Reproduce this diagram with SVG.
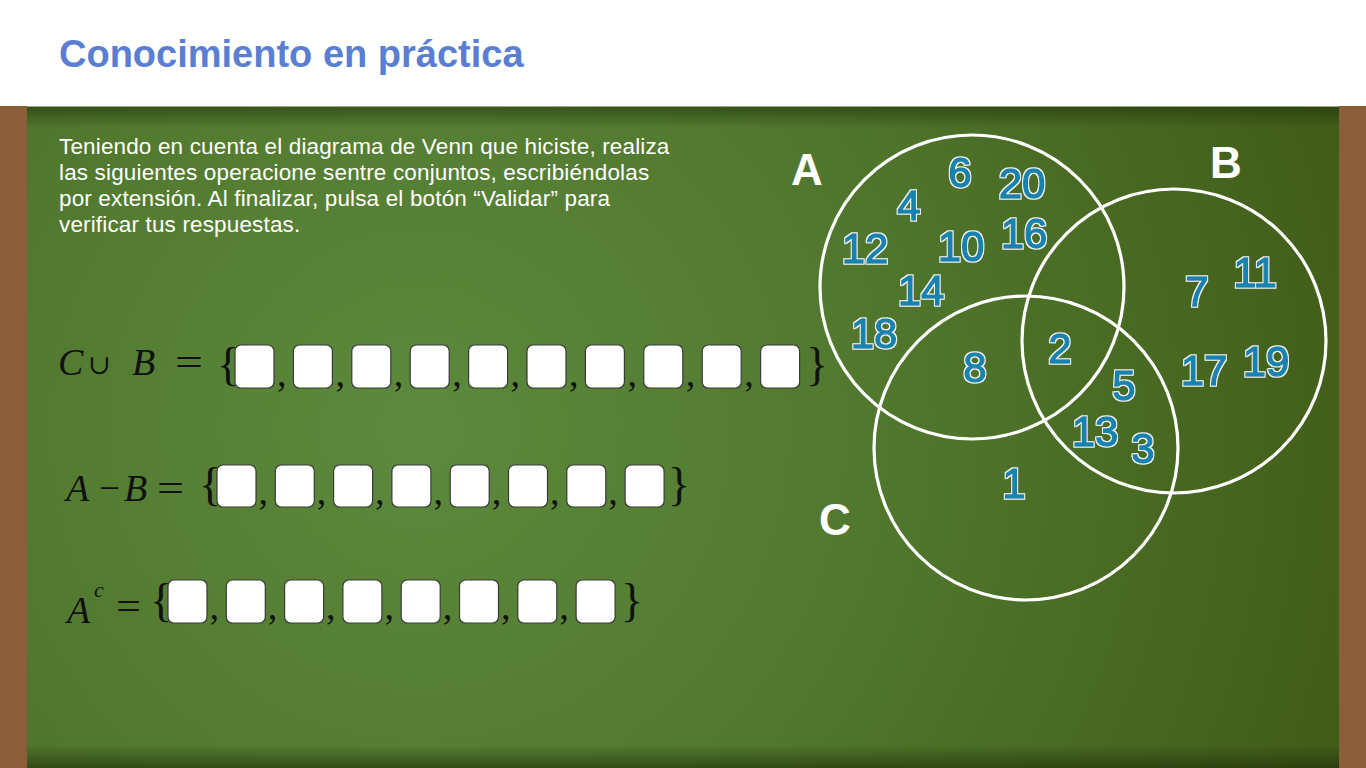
<svg xmlns="http://www.w3.org/2000/svg" width="1366" height="768" viewBox="0 0 1366 768">
<defs>
<radialGradient id="boardGrad" cx="420" cy="430" r="1000" gradientUnits="userSpaceOnUse">
<stop offset="0" stop-color="#5c8a3d"/>
<stop offset="0.45" stop-color="#51782e"/>
<stop offset="1" stop-color="#405b17"/>
</radialGradient>
<linearGradient id="topShade" x1="0" y1="0" x2="0" y2="1">
<stop offset="0" stop-color="#1e2e08" stop-opacity="0.55"/>
<stop offset="1" stop-color="#1e2e08" stop-opacity="0"/>
</linearGradient>
<linearGradient id="botShade" x1="0" y1="0" x2="0" y2="1">
<stop offset="0" stop-color="#1e2e08" stop-opacity="0"/>
<stop offset="1" stop-color="#1e2e08" stop-opacity="0.6"/>
</linearGradient>
<filter id="halo" x="-20%" y="-20%" width="140%" height="140%">
<feMorphology in="SourceAlpha" operator="dilate" radius="1.1" result="grown"/>
<feFlood flood-color="#eef6f8"/>
<feComposite in2="grown" operator="in" result="outline"/>
<feMerge><feMergeNode in="outline"/><feMergeNode in="SourceGraphic"/></feMerge>
</filter>
<style>
.title{font-family:"Liberation Sans",Arial,sans-serif;font-weight:bold;font-size:38px;fill:#5a7fd2}
.instr{font-family:"Liberation Sans",Arial,sans-serif;font-size:22.5px;fill:#ffffff;letter-spacing:0.15px}
.math{font-family:"Liberation Serif","Times New Roman",serif;font-size:38px;fill:#111111}
.it{font-style:italic}
.brace{font-family:"Liberation Serif","Times New Roman",serif;font-size:46px;fill:#111111}
.box{fill:#ffffff;stroke:#3a3a3a;stroke-width:1.2}
.circ{fill:none;stroke:#ffffff;stroke-width:3.2}
.setlbl{font-family:"Liberation Sans",Arial,sans-serif;font-weight:bold;font-size:44px;fill:#ffffff;text-anchor:middle}
.num{font-family:"Liberation Sans",Arial,sans-serif;font-size:42px;fill:#1383ae;stroke:#1383ae;stroke-width:1.3;text-anchor:middle}
</style>
</defs>

<g id="header">
<rect x="0" y="0" width="1366" height="106" fill="#ffffff"/>
<text class="title" x="59" y="67">Conocimiento en práctica</text>
</g>

<g id="board">
<rect x="0" y="106" width="1366" height="662" fill="#8b5e3a"/>
<rect x="27" y="106" width="1312" height="662" fill="url(#boardGrad)"/>
<rect x="27" y="106" width="1312" height="22" fill="url(#topShade)"/>
<rect x="27" y="745" width="1312" height="23" fill="url(#botShade)"/>
<line x1="27" y1="106.5" x2="1339" y2="106.5" stroke="#9aa88a" stroke-width="1"/>
</g>

<g id="instructions">
<text class="instr" x="59" y="154">Teniendo en cuenta el diagrama de Venn que hiciste, realiza</text>
<text class="instr" x="59" y="180">las siguientes operacione sentre conjuntos, escribiéndolas</text>
<text class="instr" x="59" y="206">por extensión. Al finalizar, pulsa el botón “Validar” para</text>
<text class="instr" x="59" y="232">verificar tus respuestas.</text>
</g>

<g id="eq-union">
<text class="math it" x="58" y="375">C</text>
<text x="88" y="374" style="font-family:'DejaVu Serif','Liberation Serif',serif;font-size:27px;fill:#111">∪</text>
<text class="math it" x="132" y="375">B</text>
<text class="math" x="175" y="375" textLength="28" lengthAdjust="spacingAndGlyphs">=</text>
<text class="brace" x="217" y="380">{</text>
<rect class="box" x="235" y="345" width="39" height="43" rx="6"/>
<rect class="box" x="293.4" y="345" width="39" height="43" rx="6"/>
<rect class="box" x="351.8" y="345" width="39" height="43" rx="6"/>
<rect class="box" x="410.2" y="345" width="39" height="43" rx="6"/>
<rect class="box" x="468.6" y="345" width="39" height="43" rx="6"/>
<rect class="box" x="527" y="345" width="39" height="43" rx="6"/>
<rect class="box" x="585.4" y="345" width="39" height="43" rx="6"/>
<rect class="box" x="643.8" y="345" width="39" height="43" rx="6"/>
<rect class="box" x="702.2" y="345" width="39" height="43" rx="6"/>
<rect class="box" x="760.6" y="345" width="39" height="43" rx="6"/>
<text class="math" y="386"><tspan x="277">,</tspan><tspan x="335.4">,</tspan><tspan x="393.8">,</tspan><tspan x="452.2">,</tspan><tspan x="510.6">,</tspan><tspan x="569">,</tspan><tspan x="627.4">,</tspan><tspan x="685.8">,</tspan><tspan x="744.2">,</tspan></text>
<text class="brace" x="806" y="380">}</text>
</g>

<g id="eq-difference">
<text class="math it" x="66" y="501">A</text>
<text class="math" x="99" y="501" textLength="21" lengthAdjust="spacingAndGlyphs">−</text>
<text class="math it" x="124" y="501">B</text>
<text class="math" x="157" y="501" textLength="27" lengthAdjust="spacingAndGlyphs">=</text>
<text class="brace" x="199" y="500">{</text>
<rect class="box" x="217" y="465" width="39" height="42" rx="6"/>
<rect class="box" x="275.3" y="465" width="39" height="42" rx="6"/>
<rect class="box" x="333.6" y="465" width="39" height="42" rx="6"/>
<rect class="box" x="391.9" y="465" width="39" height="42" rx="6"/>
<rect class="box" x="450.2" y="465" width="39" height="42" rx="6"/>
<rect class="box" x="508.5" y="465" width="39" height="42" rx="6"/>
<rect class="box" x="566.8" y="465" width="39" height="42" rx="6"/>
<rect class="box" x="625.1" y="465" width="39" height="42" rx="6"/>
<text class="math" y="504"><tspan x="258.5">,</tspan><tspan x="316.8">,</tspan><tspan x="375.1">,</tspan><tspan x="433.4">,</tspan><tspan x="491.7">,</tspan><tspan x="550">,</tspan><tspan x="608.3">,</tspan></text>
<text class="brace" x="668" y="500">}</text>
</g>

<g id="eq-complement">
<text class="math it" x="67" y="623">A</text>
<text class="math it" x="94" y="597" style="font-size:22px">c</text>
<text class="math" x="116" y="619" textLength="25" lengthAdjust="spacingAndGlyphs">=</text>
<text class="brace" x="150" y="616">{</text>
<rect class="box" x="168" y="580" width="39" height="43" rx="6"/>
<rect class="box" x="226.3" y="580" width="39" height="43" rx="6"/>
<rect class="box" x="284.6" y="580" width="39" height="43" rx="6"/>
<rect class="box" x="342.9" y="580" width="39" height="43" rx="6"/>
<rect class="box" x="401.2" y="580" width="39" height="43" rx="6"/>
<rect class="box" x="459.5" y="580" width="39" height="43" rx="6"/>
<rect class="box" x="517.8" y="580" width="39" height="43" rx="6"/>
<rect class="box" x="576.1" y="580" width="39" height="43" rx="6"/>
<text class="math" y="619"><tspan x="209.5">,</tspan><tspan x="267.8">,</tspan><tspan x="326.1">,</tspan><tspan x="384.4">,</tspan><tspan x="442.7">,</tspan><tspan x="501">,</tspan><tspan x="559.3">,</tspan></text>
<text class="brace" x="621" y="616">}</text>
</g>

<g id="venn">
<g id="set-A">
<circle class="circ" cx="972" cy="287" r="152"/>
<text class="setlbl" x="807" y="185">A</text>
</g>
<g id="set-B">
<circle class="circ" cx="1174" cy="341" r="152"/>
<text class="setlbl" x="1226" y="178">B</text>
</g>
<g id="set-C">
<circle class="circ" cx="1026" cy="448" r="152"/>
<text class="setlbl" x="835" y="535">C</text>
</g>
<g id="elements" filter="url(#halo)">
<text class="num" x="960" y="187">6</text>
<text class="num" x="1022" y="198">20</text>
<text class="num" x="909" y="220">4</text>
<text class="num" x="1024" y="248">16</text>
<text class="num" x="865" y="263">12</text>
<text class="num" x="961" y="261">10</text>
<text class="num" x="921" y="305">14</text>
<text class="num" x="874" y="348">18</text>
<text class="num" x="975" y="382">8</text>
<text class="num" x="1060" y="363">2</text>
<text class="num" x="1197" y="306">7</text>
<text class="num" x="1255" y="287">11</text>
<text class="num" x="1204" y="385">17</text>
<text class="num" x="1266" y="376">19</text>
<text class="num" x="1124" y="400">5</text>
<text class="num" x="1095" y="446">13</text>
<text class="num" x="1143" y="463">3</text>
<text class="num" x="1014" y="498">1</text>
</g>
</g>
</svg>
